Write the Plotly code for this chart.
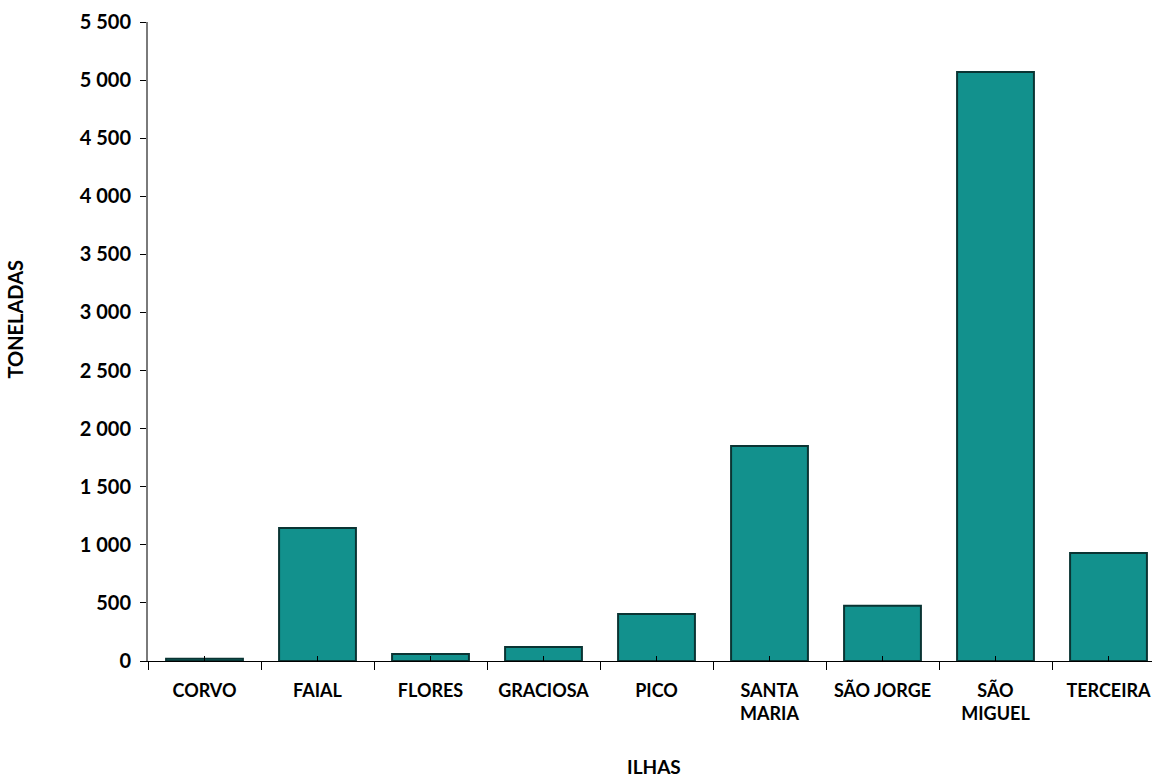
import plotly.graph_objects as go

categories = ["CORVO", "FAIAL", "FLORES", "GRACIOSA", "PICO", "SANTA<br>MARIA", "SÃO JORGE", "SÃO<br>MIGUEL", "TERCEIRA"]
values = [20, 1145, 60, 120, 405, 1850, 475, 5070, 930]
y_ticks = [0, 500, 1000, 1500, 2000, 2500, 3000, 3500, 4000, 4500, 5000, 5500]
y_labels = ["0", "500", "1 000", "1 500", "2 000", "2 500", "3 000", "3 500", "4 000", "4 500", "5 000", "5 500"]

FONT = "Lato"
fig = go.Figure()
fig.add_trace(go.Bar(
    x=categories, y=values,
    marker=dict(color="#12918D", line=dict(color="#0A3433", width=2)),
    width=0.68,
))
# helper trace so the overlay axis carries the same categories (draws nothing)
fig.add_trace(go.Scatter(
    x=categories, y=[0] * len(categories), xaxis="x2", mode="markers",
    marker=dict(size=0.1, opacity=0), hoverinfo="skip",
))
fig.update_layout(
    width=1152, height=778,
    margin=dict(l=148, r=0, t=22, b=117),
    paper_bgcolor="white", plot_bgcolor="white",
    font=dict(family=FONT, size=19, color="black"),
    showlegend=False,
    xaxis=dict(
        automargin=False,
        range=[-0.5, 8.385],
        tickson="boundaries", ticks="outside", ticklen=8, tickcolor="black",
        showline=True, linecolor="black", linewidth=1,
        tickfont=dict(family=FONT, size=18, weight="bold"),
        tickangle=0,
        ticklabelstandoff=13,
        showgrid=False,
    ),
    xaxis2=dict(
        automargin=False, overlaying="x", matches="x", anchor="y", side="bottom",
        ticks="inside", ticklen=5, tickcolor="black",
        showticklabels=False, showline=False, showgrid=False,
    ),
    yaxis=dict(
        automargin=False,
        range=[0, 5500], tickvals=y_ticks, ticktext=y_labels,
        ticks="outside", ticklen=6, tickcolor="black",
        showline=True, linecolor="#7a7a7a", linewidth=2,
        tickfont=dict(family=FONT, size=20, weight="bold"),
        ticklabelstandoff=5,
        showgrid=False, zeroline=False,
    ),
    annotations=[
        dict(text="<b>ILHAS</b>", xref="paper", yref="paper", x=(654 - 148) / (1152 - 148), y=0,
             yanchor="middle", yshift=-105, showarrow=False, font=dict(size=19)),
        dict(text="<b>TONELADAS</b>", xref="paper", yref="y domain", x=0, y=0.5,
             xanchor="left", xshift=-148, yshift=22, textangle=-90, showarrow=False, font=dict(size=20)),
    ],
)
fig.write_html(
    "out.html",
    config={"displayModeBar": False},
    post_script="document.body.style.margin='0';document.documentElement.style.overflow='hidden';",
)
